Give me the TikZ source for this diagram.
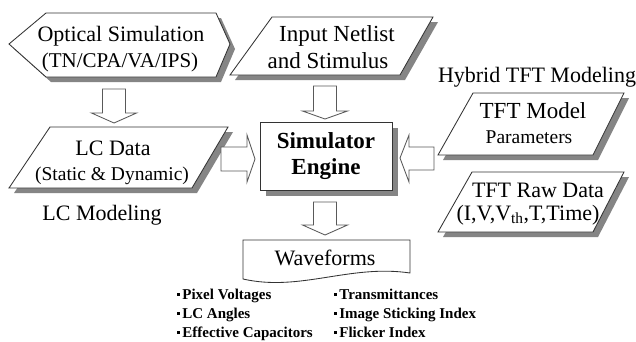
\documentclass[tikz,border=0pt]{standalone}
\usepackage{fontspec}
\setmainfont{Liberation Serif}
\newcommand\fsz[1]{\fontsize{#1}{#1}\selectfont}
\newcommand\bul{\raisebox{3.2pt}{\rule{2.6pt}{2.6pt}}\hspace{2.6pt}}
\newcommand\downblock[4]{%
  \draw[barrow] (#1-11.5,#2) -- (#1+11.5,#2) -- (#1+11.5,#3) -- (#1+22.5,#3) -- (#1,#4)
     -- (#1-22.5,#3) -- (#1-11.5,#3) -- cycle;}
\tikzset{
  shp/.style={draw=black!80, line width=0.85pt, fill=white, line join=miter},
  shd/.style={fill=black!48, draw=none},
  barrow/.style={draw=black!65, line width=0.85pt, fill=white, line join=miter},
  txt/.style={anchor=base, inner sep=0pt, font=\fsz{22}},
  btxt/.style={anchor=base, inner sep=0pt, font=\fsz{23}\bfseries},
  ltxt/.style={anchor=base west, inner sep=0pt, font=\fsz{15}\bfseries},
}
\begin{document}
\begin{tikzpicture}[x=1pt,y=-1pt]
\useasboundingbox (0,0) rectangle (636,341);
\fill[white] (0,0) rectangle (636,341);

% ---- Optical Simulation hexagon
\fill[shd,shift={(5,5)}] (9,44) -- (46,13) -- (216,13) -- (230,44) -- (216,77) -- (46,77) -- cycle;
\draw[shp] (9,44) -- (46,13) -- (216,13) -- (230,44) -- (216,77) -- (46,77) -- cycle;
\node[txt] (opt1) at (121,41) {Optical Simulation};
\node[txt,font=\fsz{21}] (opt2) at (120,67) {(TN/CPA/VA/IPS)};

% ---- Input Netlist parallelogram
\fill[shd,shift={(5,5)}] (230,75) -- (272,17) -- (433,17) -- (400,75) -- cycle;
\draw[shp] (230,75) -- (272,17) -- (433,17) -- (400,75) -- cycle;
\node[txt,font=\fsz{23}] (in1) at (337,41) {Input Netlist};
\node[txt,font=\fsz{23}] (in2) at (328,68) {and Stimulus};

% ---- LC Data parallelogram
\fill[shd,shift={(5,5)}] (9,188) -- (50,127) -- (228,127) -- (192,188) -- cycle;
\draw[shp] (9,188) -- (50,127) -- (228,127) -- (192,188) -- cycle;
\node[txt] (lc1) at (113,155) {LC Data};
\node[txt,font=\fsz{19.5}] (lc2) at (112,180) {(Static \& Dynamic)};
\node[txt] (lcm) at (102,220) {LC Modeling};

% ---- Simulator Engine
\fill[shd,shift={(6,6)}] (260,122) rectangle (392,190);
\draw[shp] (260,122) rectangle (392,190);
\node[btxt] (sim1) at (326,148) {Simulator};
\node[btxt] (sim2) at (326,174) {Engine};

% ---- Hybrid TFT Modeling
\node[txt] (hyb) at (537,82) {Hybrid TFT Modeling};
\fill[shd,shift={(5,5)}] (438,155) -- (473,93) -- (624,93) -- (593,155) -- cycle;
\draw[shp] (438,155) -- (473,93) -- (624,93) -- (593,155) -- cycle;
\node[txt,font=\fsz{23}] (tm1) at (533,118) {TFT Model};
\node[txt,font=\fsz{19.5}] (tm2) at (529,143) {Parameters};

\fill[shd,shift={(5,5)}] (438,232) -- (472,172) -- (624,172) -- (593,232) -- cycle;
\draw[shp] (438,232) -- (472,172) -- (624,172) -- (593,232) -- cycle;
\node[txt] (raw1) at (538,197) {TFT Raw Data};
\node[txt] (raw2) at (528,220) {(I,V,V\textsubscript{th},T,Time)};

% ---- Waveforms document
\draw[shp] (243,279) -- (243,240) -- (410,240) -- (410,273)
   .. controls (350,264) and (300,292) .. (243,279) -- cycle;
\node[txt] (wf) at (325,265) {Waveforms};

% ---- block arrows
\downblock{114}{89}{113}{123}
\downblock{325}{86}{111}{119}
\downblock{325}{202}{225}{235}
\draw[barrow] (221,147) -- (247,147) -- (247,135) -- (255,159) -- (247,182) -- (247,171) -- (221,171) -- cycle;
\draw[barrow] (434,147) -- (409,147) -- (409,135) -- (400,158) -- (409,182) -- (409,170) -- (434,170) -- cycle;

% ---- output lists
\node[ltxt] (b1) at (177,299) {\bul Pixel Voltages};
\node[ltxt] (b2) at (177,318) {\bul LC Angles};
\node[ltxt] (b3) at (177,337) {\bul Effective Capacitors};
\node[ltxt] (b4) at (334,299) {\bul Transmittances};
\node[ltxt] (b5) at (334,318) {\bul Image Sticking Index};
\node[ltxt] (b6) at (334,337) {\bul Flicker Index};
\end{tikzpicture}
\end{document}
